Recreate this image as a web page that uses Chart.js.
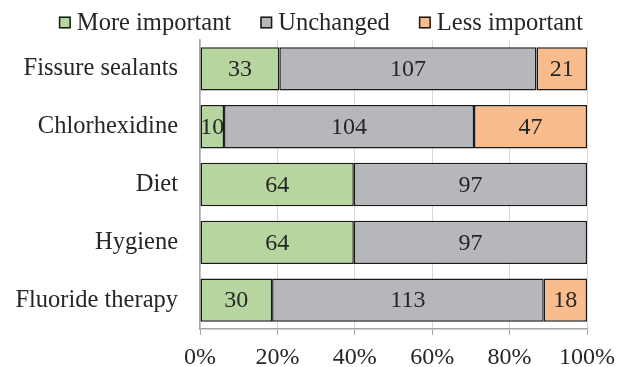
<!DOCTYPE html>
<html>
<head>
<meta charset="utf-8">
<style>
  html, body { margin: 0; padding: 0; background: #ffffff; }
  #wrap { width: 617px; height: 367px; position: relative; }
</style>
<script src="https://cdn.jsdelivr.net/npm/chart.js@4/dist/chart.umd.min.js"></script>
</head>
<body>
<div id="wrap"><canvas id="chart" width="617" height="367"></canvas></div>
<script>
// Perceived importance of caries-prevention measures (number of respondents)
const categories = ['Fissure sealants', 'Chlorhexidine', 'Diet', 'Hygiene', 'Fluoride therapy'];
const moreImportant = [33, 10, 64, 64, 30];
const unchanged = [107, 104, 97, 97, 113];
const lessImportant = [21, 47, 0, 0, 18];
const seriesNames = ['More important', 'Unchanged', 'Less important'];
const percentTicks = [0, 20, 40, 60, 80, 100];

const total = moreImportant[0] + unchanged[0] + lessImportant[0];

const FONT = '"Liberation Serif", "Times New Roman", serif';
const TEXT = '#262626';

// Value labels centred inside each segment
const segmentLabels = {
  id: 'segmentLabels',
  afterDatasetsDraw(chart) {
    const ctx = chart.ctx;
    ctx.save();
    ctx.font = '24px ' + FONT;
    ctx.fillStyle = TEXT;
    ctx.textAlign = 'center';
    ctx.textBaseline = 'middle';
    chart.data.datasets.forEach((ds, i) => {
      chart.getDatasetMeta(i).data.forEach((bar, j) => {
        const v = ds.data[j];
        if (!v) return;
        const p = bar.getProps(['x', 'y', 'base'], true);
        ctx.fillText(String(v), (p.x + p.base) / 2, p.y + 1);
      });
    });
    ctx.restore();
  }
};

// Compact legend row above the plot
const topLegend = {
  id: 'topLegend',
  afterDraw(chart) {
    const ctx = chart.ctx;
    ctx.save();
    ctx.font = '24.5px ' + FONT;
    ctx.textBaseline = 'middle';
    const box = 12, gap = 6, spacing = 29, y = 22.5;
    const widths = chart.data.datasets.map(ds => ctx.measureText(ds.label).width);
    const full = widths.reduce((a, w) => a + box + gap + w, 0) + spacing * (widths.length - 1);
    let x = 321 - full / 2;
    chart.data.datasets.forEach((ds, i) => {
      ctx.fillStyle = ds.backgroundColor;
      ctx.fillRect(x, y - box / 2, box, box);
      ctx.lineWidth = 1.5;
      ctx.strokeStyle = '#1a1a1a';
      ctx.strokeRect(x + 0.75, y - box / 2 + 0.75, box - 1.5, box - 1.5);
      ctx.fillStyle = TEXT;
      ctx.textAlign = 'left';
      ctx.fillText(ds.label, x + box + gap, y + 1);
      x += box + gap + widths[i] + spacing;
    });
    ctx.restore();
  }
};

const colors = ['#b6d59f', '#b5b7ba', '#f9bc8d'];

new Chart(document.getElementById('chart'), {
  type: 'bar',
  data: {
    labels: categories,
    datasets: [moreImportant, unchanged, lessImportant].map((d, i) => ({
      label: seriesNames[i],
      data: d,
      backgroundColor: colors[i],
      borderColor: '#1a1a1a',
      borderWidth: 1.5,
      borderSkipped: false,
      categoryPercentage: 1,
      barPercentage: 0.75
    }))
  },
  options: {
    indexAxis: 'y',
    responsive: false,
    animation: false,
    events: [],
    layout: { padding: { top: 40, right: 30, left: 0, bottom: 0 } },
    plugins: { legend: { display: false }, tooltip: { enabled: false } },
    scales: {
      x: {
        stacked: true,
        min: 0,
        max: total,
        afterBuildTicks(scale) {
          scale.ticks = percentTicks.map(p => ({ value: p / 100 * total }));
        },
        afterFit(scale) {
          scale.height = 38;
          scale.paddingLeft = 0;
          scale.paddingRight = 0;
        },
        grid: { color: '#d9d9d9', tickColor: '#a6a6a6', tickLength: 6, drawTicks: true },
        border: { color: '#a6a6a6', width: 1.5 },
        ticks: {
          color: TEXT,
          font: { family: FONT, size: 24 },
          padding: 8,
          maxRotation: 0,
          callback(v) { return Math.round(v / total * 100) + '%'; }
        }
      },
      y: {
        stacked: true,
        afterFit(scale) { scale.width = 200; },
        grid: { display: false, drawTicks: false },
        border: { color: '#a6a6a6', width: 1.5 },
        ticks: { color: TEXT, font: { family: FONT, size: 24.5 }, padding: 22 }
      }
    }
  },
  plugins: [segmentLabels, topLegend]
});
</script>
</body>
</html>
